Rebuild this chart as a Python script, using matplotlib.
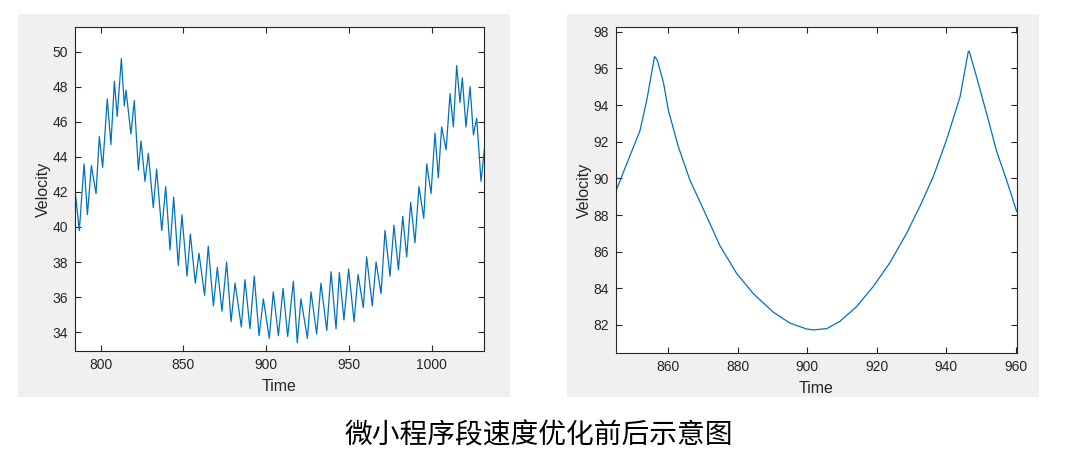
import matplotlib.pyplot as plt
from matplotlib.patches import Rectangle

plt.rcParams['font.family'] = ['Liberation Sans', 'DejaVu Sans']

# left panel: before optimisation (peaks / troughs)
left_time = [784.3, 787.1, 790.0, 792.0, 794.4, 797.2, 799.2, 801.2, 804.0, 806.2,
             808.3, 810.0, 812.5, 814.3, 815.3, 818.3, 820.3, 822.8, 824.4, 826.8,
             828.8, 831.8, 833.8, 836.9, 839.3, 841.9, 844.1, 846.9, 849.1, 852.2,
             854.2, 857.2, 859.4, 862.8, 865.0, 868.1, 870.5, 873.3, 876.1, 878.8,
             881.2, 885.0, 887.2, 890.2, 892.8, 895.7, 898.3, 901.9, 904.3, 907.4,
             910.2, 913.0, 916.4, 918.8, 921.0, 924.9, 927.1, 930.5, 933.1, 936.6,
             939.2, 942.2, 944.2, 947.0, 949.8, 953.1, 955.5, 958.7, 960.7, 964.1,
             966.4, 969.4, 971.8, 974.8, 977.2, 979.9, 982.5, 984.9, 987.3, 989.9,
             992.3, 995.2, 997.0, 999.6, 1002.0, 1004.0, 1006.0, 1008.7, 1011.1, 1013.1,
             1015.1, 1017.1, 1018.5, 1020.7, 1023.2, 1025.2, 1027.2, 1029.8, 1031.8]
left_velocity = [42.3, 39.8, 43.6, 40.7, 43.5, 41.9, 45.15, 43.4, 47.3, 44.7,
                 48.3, 46.3, 49.6, 46.9, 47.8, 45.3, 47.2, 43.25, 44.9, 42.6,
                 44.2, 41.1, 43.3, 39.8, 42.3, 38.7, 41.7, 37.8, 40.7, 37.2,
                 39.6, 36.8, 38.5, 36.1, 38.9, 35.5, 37.7, 35.2, 38.0, 34.6,
                 36.8, 34.3, 37.0, 34.2, 37.2, 33.8, 35.9, 33.65, 36.3, 33.8,
                 36.5, 33.75, 36.9, 33.4, 35.9, 33.65, 36.3, 33.9, 36.8, 34.1,
                 37.45, 34.2, 37.4, 34.7, 37.6, 34.6, 37.3, 35.4, 38.3, 35.5,
                 38.0, 36.2, 39.8, 37.2, 40.1, 37.55, 40.6, 38.3, 41.4, 39.1,
                 42.3, 40.5, 43.6, 41.9, 45.35, 42.8, 45.7, 44.4, 47.6, 45.7,
                 49.2, 47.1, 48.5, 45.7, 48.0, 45.25, 46.2, 42.6, 44.4]

# right panel: after optimisation
right_time = [844.8, 848.0, 851.8, 853.8, 856.0, 856.8, 858.6, 860.0, 862.9, 866.2,
              870.1, 874.9, 879.7, 884.5, 890.2, 895.0, 899.8, 901.7, 905.6, 909.4,
              914.2, 919.0, 923.8, 928.6, 932.5, 936.3, 940.1, 944.0, 946.4, 946.7,
              948.8, 951.7, 954.5, 957.4, 960.3]
right_velocity = [89.27, 90.8, 92.6, 94.3, 96.65, 96.45, 95.2, 93.7, 91.7, 89.9,
                  88.3, 86.3, 84.8, 83.7, 82.7, 82.1, 81.78, 81.73, 81.8, 82.2,
                  83.0, 84.1, 85.4, 87.0, 88.5, 90.1, 92.1, 94.45, 96.95, 96.9,
                  95.5, 93.5, 91.5, 89.9, 88.2]

caption = "微小程序段速度优化前后示意图"

line_color = "#0072BD"
text_color = "#262626"

fig = plt.figure(figsize=(10.8, 4.72), dpi=100)
fig.patch.set_facecolor("white")

# grey MATLAB-style figure panels
for x0, x1 in [(18, 510), (567, 1039)]:
    fig.patches.append(Rectangle((x0 / 1080, 1 - 397 / 472), (x1 - x0) / 1080, 383 / 472,
                                 transform=fig.transFigure, facecolor="#F0F0F0",
                                 edgecolor="none", zorder=-10))

ax1 = fig.add_axes([75 / 1080, 1 - 351 / 472, 409 / 1080, 324 / 472])
ax2 = fig.add_axes([616 / 1080, 1 - 353 / 472, 401 / 1080, 326 / 472])

ax1.plot(left_time, left_velocity, color=line_color, lw=0.9)
ax1.set_xlim(784.5, 1031.6)
ax1.set_ylim(32.93, 51.4)
ax1.set_xticks(range(800, 1001, 50))
ax1.set_yticks(range(34, 51, 2))

ax2.plot(right_time, right_velocity, color=line_color, lw=0.9)
ax2.set_xlim(844.9, 960.4)
ax2.set_ylim(80.47, 98.26)
ax2.set_xticks(range(860, 961, 20))
ax2.set_yticks(range(82, 99, 2))

for ax in (ax1, ax2):
    ax.set_zorder(5)
    ax.set_facecolor("white")
    ax.tick_params(direction="in", top=True, right=True, length=4, width=0.8,
                   colors=text_color, labelsize=10, pad=5)
    for s in ax.spines.values():
        s.set_color(text_color)
        s.set_linewidth(0.8)
    ax.set_xlabel("Time", fontsize=11.5, color=text_color, labelpad=5)
    ax.set_ylabel("Velocity", fontsize=11.5, color=text_color, labelpad=1)

fig.text(539 / 1080, 1 - 436 / 472, caption, ha="center", va="center", fontsize=20,
         color="black", family=["Noto Sans CJK SC", "DejaVu Sans"])

fig.savefig("out.png", dpi=100)
